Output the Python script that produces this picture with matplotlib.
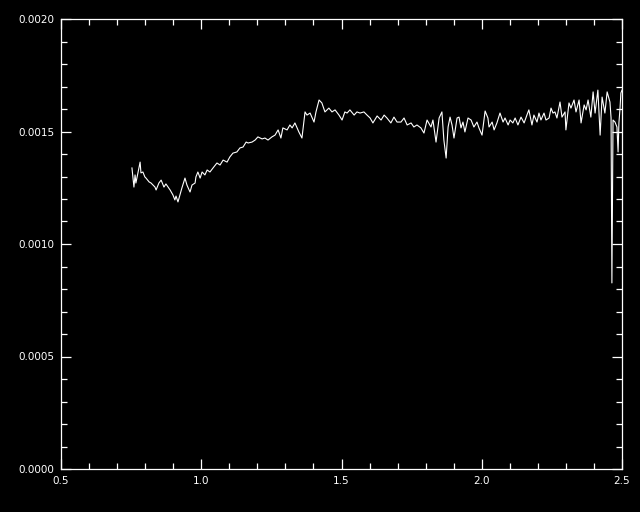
import numpy as np
import matplotlib
matplotlib.use('Agg')
import matplotlib.pyplot as plt
from matplotlib.ticker import MultipleLocator, FormatStrFormatter

# wavelength (micron) and flux
wave = [0.753, 0.760, 0.764, 0.767, 0.782, 0.785, 0.792, 0.799, 0.803, 0.814,
        0.821, 0.835, 0.839, 0.849, 0.857, 0.867, 0.874, 0.889, 0.899, 0.906,
        0.910, 0.917, 0.924, 0.931, 0.942, 0.949, 0.960, 0.967, 0.978, 0.981,
        0.988, 0.996, 1.003, 1.013, 1.021, 1.031, 1.042, 1.056, 1.067, 1.078,
        1.092, 1.102, 1.113, 1.127, 1.138, 1.149, 1.160, 1.167, 1.181, 1.192,
        1.202, 1.217, 1.227, 1.238, 1.252, 1.263, 1.274, 1.284, 1.291, 1.306,
        1.316, 1.324, 1.334, 1.348, 1.359, 1.370, 1.377, 1.388, 1.402, 1.409,
        1.420, 1.430, 1.441, 1.455, 1.466, 1.477, 1.491, 1.502, 1.512, 1.520,
        1.530, 1.545, 1.555, 1.566, 1.580, 1.591, 1.602, 1.612, 1.627, 1.641,
        1.652, 1.662, 1.676, 1.687, 1.698, 1.712, 1.723, 1.734, 1.748, 1.758,
        1.769, 1.783, 1.794, 1.805, 1.819, 1.826, 1.837, 1.848, 1.858, 1.865,
        1.873, 1.880, 1.887, 1.894, 1.901, 1.912, 1.919, 1.926, 1.933, 1.940,
        1.951, 1.962, 1.972, 1.983, 1.990, 2.001, 2.012, 2.022, 2.026, 2.037,
        2.044, 2.054, 2.065, 2.076, 2.083, 2.094, 2.101, 2.111, 2.119, 2.129,
        2.140, 2.151, 2.161, 2.168, 2.179, 2.186, 2.197, 2.204, 2.211, 2.222,
        2.229, 2.240, 2.247, 2.254, 2.261, 2.268, 2.279, 2.286, 2.297, 2.300,
        2.311, 2.318, 2.329, 2.336, 2.347, 2.354, 2.365, 2.372, 2.379, 2.389,
        2.397, 2.404, 2.414, 2.422, 2.429, 2.439, 2.447, 2.457, 2.461, 2.464,
        2.468, 2.475, 2.482, 2.486, 2.489, 2.493, 2.496, 2.500]

flux = [0.001338, 0.001253, 0.001307, 0.001271, 0.001364, 0.001316, 0.001320, 0.001298, 0.001293, 0.001276,
        0.001271, 0.001253, 0.001240, 0.001271, 0.001284, 0.001253, 0.001267, 0.001240, 0.001218, 0.001196,
        0.001213, 0.001187, 0.001218, 0.001249, 0.001293, 0.001262, 0.001231, 0.001262, 0.001271, 0.001298,
        0.001320, 0.001293, 0.001320, 0.001307, 0.001329, 0.001320, 0.001338, 0.001360, 0.001351, 0.001373,
        0.001364, 0.001387, 0.001404, 0.001409, 0.001427, 0.001431, 0.001453, 0.001449, 0.001453, 0.001462,
        0.001476, 0.001467, 0.001471, 0.001462, 0.001476, 0.001484, 0.001507, 0.001471, 0.001516, 0.001507,
        0.001529, 0.001516, 0.001538, 0.001498, 0.001471, 0.001587, 0.001573, 0.001582, 0.001542, 0.001587,
        0.001640, 0.001627, 0.001587, 0.001604, 0.001587, 0.001596, 0.001573, 0.001551, 0.001587, 0.001582,
        0.001596, 0.001573, 0.001587, 0.001582, 0.001587, 0.001573, 0.001560, 0.001538, 0.001569, 0.001551,
        0.001573, 0.001560, 0.001538, 0.001564, 0.001542, 0.001542, 0.001560, 0.001529, 0.001538, 0.001520,
        0.001529, 0.001516, 0.001493, 0.001551, 0.001520, 0.001551, 0.001453, 0.001560, 0.001587, 0.001462,
        0.001382, 0.001520, 0.001564, 0.001529, 0.001471, 0.001560, 0.001564, 0.001516, 0.001542, 0.001498,
        0.001560, 0.001551, 0.001520, 0.001542, 0.001516, 0.001484, 0.001591, 0.001560, 0.001520, 0.001542,
        0.001507, 0.001538, 0.001582, 0.001542, 0.001560, 0.001529, 0.001551, 0.001538, 0.001560, 0.001529,
        0.001564, 0.001538, 0.001573, 0.001596, 0.001529, 0.001573, 0.001542, 0.001582, 0.001551, 0.001582,
        0.001551, 0.001560, 0.001604, 0.001582, 0.001587, 0.001560, 0.001631, 0.001564, 0.001587, 0.001507,
        0.001627, 0.001604, 0.001640, 0.001587, 0.001640, 0.001538, 0.001618, 0.001596, 0.001640, 0.001564,
        0.001676, 0.001582, 0.001684, 0.001484, 0.001653, 0.001582, 0.001676, 0.001631, 0.001560, 0.000827,
        0.001551, 0.001542, 0.001520, 0.001409, 0.001538, 0.001604, 0.001671, 0.001684]

fig = plt.figure(figsize=(6.4, 5.12), dpi=100, facecolor='black')
ax = fig.add_axes([61/640, 43/512, 561/640, 450/512], facecolor='black')

ax.plot(wave, flux, color='white', lw=0.8)

ax.set_xlim(0.5, 2.5)
ax.set_ylim(0.0, 0.002)
ax.xaxis.set_major_locator(MultipleLocator(0.5))
ax.xaxis.set_minor_locator(MultipleLocator(0.1))
ax.yaxis.set_major_locator(MultipleLocator(0.0005))
ax.yaxis.set_minor_locator(MultipleLocator(0.0001))
ax.xaxis.set_major_formatter(FormatStrFormatter('%.1f'))
ax.yaxis.set_major_formatter(FormatStrFormatter('%.4f'))

for s in ax.spines.values():
    s.set_color('white')
    s.set_linewidth(0.9)
ax.tick_params(which='both', direction='in', colors='white', top=True, right=True,
               labelsize=7.5, width=0.9)
ax.tick_params(which='major', length=7, pad=5)
ax.tick_params(which='minor', length=4)

fig.savefig('out.png', dpi=100, facecolor='black')
